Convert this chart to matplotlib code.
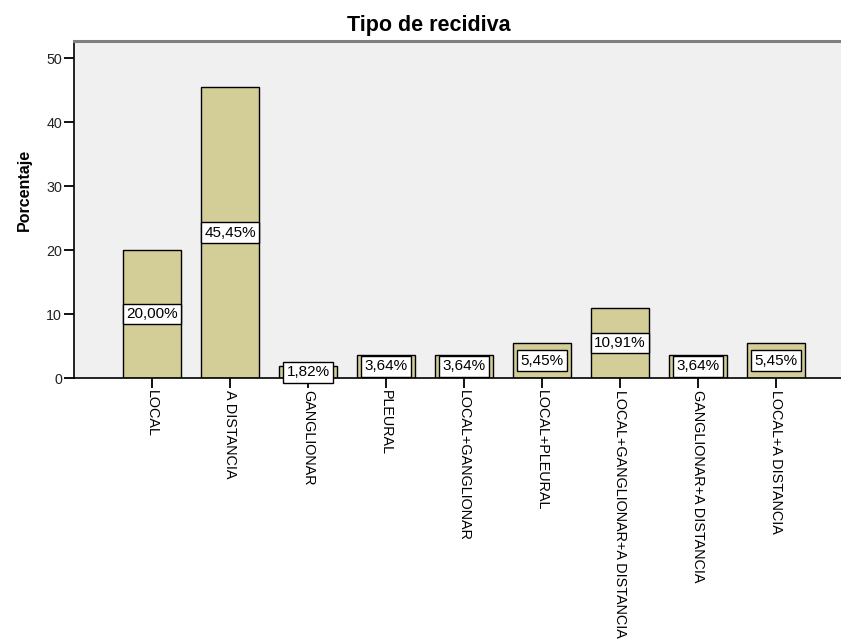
import matplotlib
matplotlib.use("Agg")
import matplotlib.pyplot as plt

categories = [
    "LOCAL",
    "A DISTANCIA",
    "GANGLIONAR",
    "PLEURAL",
    "LOCAL+GANGLIONAR",
    "LOCAL+PLEURAL",
    "LOCAL+GANGLIONAR+A DISTANCIA",
    "GANGLIONAR+A DISTANCIA",
    "LOCAL+A DISTANCIA",
]
percentages = [20.00, 45.45, 1.82, 3.64, 3.64, 5.45, 10.91, 3.64, 5.45]
y_ticks = [0, 10, 20, 30, 40, 50]

plt.rcParams["font.family"] = ["Liberation Sans", "DejaVu Sans"]

W, H = 841, 639
fig = plt.figure(figsize=(W / 100, H / 100), dpi=100)
left, right, top, bottom = 74, 854, 41, 378
ax = fig.add_axes([left / W, 1 - bottom / H, (right - left) / W, (bottom - top) / H])
ax.set_facecolor("#f0f0f0")

x = list(range(len(categories)))
ax.bar(x, percentages, width=0.74, color="#d3ce97", edgecolor="black",
       linewidth=1.0, zorder=2)

for xi, v in zip(x, percentages):
    ax.text(xi, v / 2, f"{v:.2f}%".replace(".", ","), ha="center", va="center",
            fontsize=11, color="black", zorder=5, clip_on=False,
            bbox=dict(boxstyle="square,pad=0.22", facecolor="white",
                      edgecolor="black", linewidth=1.0))

ax.set_xlim(-1, 9)
ax.set_ylim(0, 52.66)
ax.set_yticks(y_ticks)
ax.set_yticklabels([str(t) for t in y_ticks], fontsize=10.3, color="#222222")
ax.set_xticks(x)
ax.set_xticklabels(categories, rotation=270, fontsize=10.4, color="black",
                   ha="center", va="top", rotation_mode="default")
ax.tick_params(axis="y", length=7, width=1.3, pad=1.5)
ax.tick_params(axis="x", length=7, width=1.3, pad=1.5)

ax.spines["top"].set_color("#7f7f7f")
ax.spines["top"].set_linewidth(2.2)
ax.spines["left"].set_color("black")
ax.spines["left"].set_linewidth(1.2)
ax.spines["bottom"].set_color("black")
ax.spines["bottom"].set_linewidth(1.2)
ax.spines["right"].set_visible(False)

fig.text(24 / W, 1 - 190 / H, "Porcentaje", rotation=90, ha="center",
         va="center", fontsize=11.5, fontweight="bold")
fig.text(429 / W, 1 - 25 / H, "Tipo de recidiva", ha="center", va="center",
         fontsize=15.5, fontweight="bold")

fig.savefig("out.png", dpi=100)
